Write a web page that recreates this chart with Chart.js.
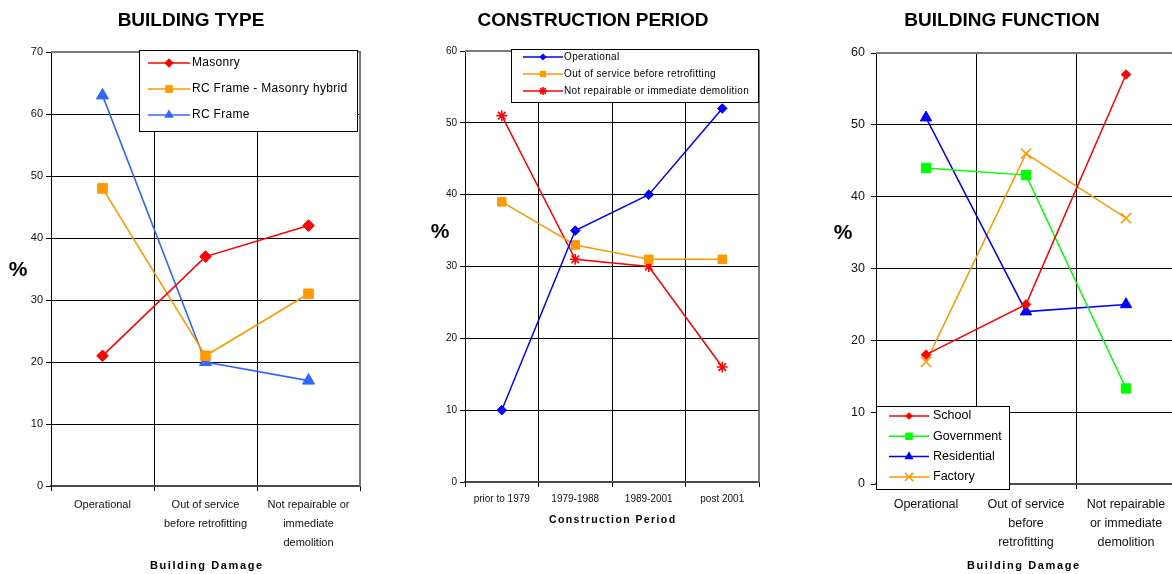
<!DOCTYPE html>
<html>
<head>
<meta charset="utf-8">
<script src="https://cdn.jsdelivr.net/npm/chart.js@4.4.1/dist/chart.umd.min.js"></script>
<style>
  html, body { margin: 0; padding: 0; background: #fff; width: 1172px; height: 574px; overflow: hidden; }
  #wrap { position: relative; width: 1172px; height: 574px; overflow: hidden; }
  canvas { position: absolute; top: 0; }
</style>
</head>
<body>
<div id="wrap">
  <canvas id="typeChart" width="370" height="574" style="left:0px"></canvas>
  <canvas id="periodChart" width="365" height="574" style="left:410px"></canvas>
  <canvas id="functionChart" width="400" height="574" style="left:800px"></canvas>
</div>
<script>
const FONT = "'Liberation Sans', Arial, sans-serif";

// Building type vs. damage state (%)
const typeDamageLabels = ['Operational', ['Out of service', 'before retrofitting'], ['Not repairable or', 'immediate', 'demolition']];
const masonry = [21, 37, 42];
const rcMasonryHybrid = [48, 21, 31];
const rcFrame = [63, 20, 17];

// Damage state vs. construction period (%)
const periodLabels = ['prior to 1979', '1979-1988', '1989-2001', 'post 2001'];
const periodOperational = [10, 35, 40, 52];
const periodOutOfService = [39, 33, 31, 31];
const periodNotRepairable = [51, 31, 30, 16];

// Building function vs. damage state (%)
const functionDamageLabels = ['Operational', ['Out of service', 'before', 'retrofitting'], ['Not repairable', 'or immediate', 'demolition']];
const school = [18, 25, 57];
const government = [44, 43, 13.3];
const residential = [51, 24, 25];
const factory = [17, 46, 37];

const RED = '#FF0000', ORANGE = '#FF9900', LIGHT_BLUE = '#3366FF', BLUE = '#0000FF', GREEN = '#00FF00';

// Marker shapes used in the boxed legends
function drawMarker(ctx, style, r, x, y, color, lw) {
  ctx.save();
  ctx.fillStyle = color;
  ctx.strokeStyle = color;
  ctx.lineWidth = lw;
  ctx.beginPath();
  const d = r * Math.SQRT1_2;
  switch (style) {
    case 'rectRot':
      ctx.moveTo(x, y - r); ctx.lineTo(x + r, y); ctx.lineTo(x, y + r); ctx.lineTo(x - r, y);
      ctx.closePath(); ctx.fill(); break;
    case 'rect':
      ctx.rect(x - d, y - d, 2 * d, 2 * d); ctx.fill(); break;
    case 'triangle':
      ctx.moveTo(x, y - r); ctx.lineTo(x + r * 0.866, y + r * 0.5); ctx.lineTo(x - r * 0.866, y + r * 0.5);
      ctx.closePath(); ctx.fill(); break;
    case 'star':
      ctx.moveTo(x, y - r); ctx.lineTo(x, y + r);
      ctx.moveTo(x - r, y); ctx.lineTo(x + r, y);
      ctx.moveTo(x - d, y - d); ctx.lineTo(x + d, y + d);
      ctx.moveTo(x - d, y + d); ctx.lineTo(x + d, y - d);
      ctx.stroke(); break;
    case 'crossRot':
      ctx.moveTo(x - d, y - d); ctx.lineTo(x + d, y + d);
      ctx.moveTo(x - d, y + d); ctx.lineTo(x + d, y - d);
      ctx.stroke(); break;
  }
  ctx.restore();
}

// Bordered legend drawn inside the plot
const boxLegend = {
  id: 'boxLegend',
  afterDraw(chart, args, o) {
    const ctx = chart.ctx;
    ctx.save();
    ctx.fillStyle = '#fff';
    ctx.fillRect(o.x, o.y, o.w, o.h);
    ctx.strokeStyle = '#000';
    ctx.lineWidth = 1;
    ctx.strokeRect(o.x + 0.5, o.y + 0.5, o.w, o.h);
    ctx.font = o.font;
    ctx.textAlign = 'left';
    ctx.textBaseline = 'middle';
    if ('letterSpacing' in ctx) ctx.letterSpacing = (o.spacing || 0) + 'px';
    chart.data.datasets.forEach((ds, i) => {
      const cy = o.y + o.first + i * o.gap;
      ctx.strokeStyle = ds.borderColor;
      ctx.lineWidth = ds.borderWidth;
      ctx.beginPath();
      ctx.moveTo(o.x + o.lineFrom, cy);
      ctx.lineTo(o.x + o.lineTo, cy);
      ctx.stroke();
      drawMarker(ctx, ds.pointStyle, ds.pointRadius * o.markerScale,
        o.x + (o.lineFrom + o.lineTo) / 2, cy, ds.borderColor, ds.pointBorderWidth);
      ctx.fillStyle = '#000';
      ctx.fillText(ds.label, o.x + o.textX, cy);
    });
    ctx.restore();
  }
};

// Chart heading, upright "%" and spaced axis caption
const captions = {
  id: 'captions',
  afterDraw(chart, args, o) {
    const ctx = chart.ctx;
    (o.items || []).forEach(it => {
      ctx.save();
      ctx.font = it.font;
      ctx.fillStyle = '#000';
      ctx.textAlign = 'center';
      ctx.textBaseline = 'middle';
      const sp = it.spacing || 0;
      if ('letterSpacing' in ctx) ctx.letterSpacing = sp + 'px';
      ctx.fillText(it.text, it.x + sp / 2, it.y);
      ctx.restore();
    });
  }
};

// Grey plot-area frame on the top and right edges
const plotFrame = {
  id: 'plotFrame',
  beforeDatasetsDraw(chart, args, o) {
    const { ctx, chartArea: a } = chart;
    ctx.save();
    ctx.strokeStyle = o.color || '#7a7a7a';
    ctx.lineWidth = o.width || 2;
    ctx.beginPath();
    ctx.moveTo(a.left, a.top);
    ctx.lineTo(a.right, a.top);
    ctx.lineTo(a.right, a.bottom);
    ctx.stroke();
    ctx.restore();
  }
};

function makeScales(s) {
  return {
    x: {
      type: 'category',
      offset: true,
      grid: { offset: true, color: '#000', lineWidth: 1, tickLength: 5, tickColor: '#000' },
      border: { color: '#4a4a4a', width: 2 },
      ticks: {
        color: '#111', maxRotation: 0, autoSkip: false, padding: s.xPad,
        font: { family: FONT, size: s.xFont, lineHeight: s.xLine }
      },
      afterFit(scale) { scale.height = s.xHeight; }
    },
    y: {
      min: 0, max: s.yMax,
      grid: { color: '#000', lineWidth: 1, tickLength: 5, tickColor: '#000' },
      border: { color: '#000', width: 1 },
      ticks: { stepSize: 10, color: '#111', padding: s.yPad, font: { family: FONT, size: s.yFont } },
      afterFit(scale) { scale.width = s.yWidth; }
    }
  };
}

function series(label, data, color, style, radius, width) {
  return {
    label, data,
    borderColor: color, backgroundColor: color,
    pointBackgroundColor: color, pointBorderColor: color,
    pointStyle: style, pointRadius: radius, pointHoverRadius: radius,
    pointBorderWidth: (style === 'star' || style === 'crossRot') ? 1.6 : 1,
    borderWidth: width, tension: 0, fill: false, clip: false
  };
}

Chart.defaults.font.family = FONT;
Chart.defaults.animation = false;

new Chart(document.getElementById('typeChart'), {
  type: 'line',
  data: {
    labels: typeDamageLabels,
    datasets: [
      series('Masonry', masonry, RED, 'rectRot', 5.8, 1.6),
      series('RC Frame - Masonry hybrid', rcMasonryHybrid, ORANGE, 'rect', 6.8, 1.6),
      series('RC Frame', rcFrame, LIGHT_BLUE, 'triangle', 7, 1.6)
    ]
  },
  options: {
    responsive: false,
    layout: { padding: { left: 0, right: 10, top: 52, bottom: 0 } },
    scales: makeScales({ yMax: 70, yWidth: 51, yFont: 11, yPad: 3, xFont: 11, xLine: 1.72, xPad: 5, xHeight: 88 }),
    plugins: {
      legend: { display: false },
      tooltip: { enabled: false },
      boxLegend: { x: 139, y: 50, w: 218, h: 81, first: 13, gap: 26, lineFrom: 9, lineTo: 51, textX: 53, markerScale: 0.8, font: '12px ' + FONT, spacing: 0.3 },
      captions: { items: [
        { text: 'BUILDING TYPE', x: 191, y: 21, font: 'bold 19px ' + FONT },
        { text: '%', x: 18, y: 270, font: 'bold 21px ' + FONT },
        { text: 'Building Damage', x: 206, y: 566, font: 'bold 11px ' + FONT, spacing: 1.6 }
      ] }
    }
  },
  plugins: [plotFrame, boxLegend, captions]
});

new Chart(document.getElementById('periodChart'), {
  type: 'line',
  data: {
    labels: periodLabels,
    datasets: [
      series('Operational', periodOperational, BLUE, 'rectRot', 4.8, 1.5),
      series('Out of service before retrofitting', periodOutOfService, ORANGE, 'rect', 6, 1.5),
      series('Not repairable or immediate demolition', periodNotRepairable, RED, 'star', 5.4, 1.5)
    ]
  },
  options: {
    responsive: false,
    layout: { padding: { left: 0, right: 16, top: 51, bottom: 0 } },
    scales: makeScales({ yMax: 60, yWidth: 55, yFont: 10, yPad: 3, xFont: 10, xLine: 1.2, xPad: 6, xHeight: 92 }),
    plugins: {
      legend: { display: false },
      tooltip: { enabled: false },
      boxLegend: { x: 101, y: 49, w: 247, h: 53, first: 8, gap: 17, lineFrom: 12, lineTo: 52, textX: 53, markerScale: 0.75, font: '10px ' + FONT, spacing: 0.35 },
      captions: { items: [
        { text: 'CONSTRUCTION PERIOD', x: 183, y: 21, font: 'bold 19px ' + FONT },
        { text: '%', x: 30, y: 232, font: 'bold 21px ' + FONT },
        { text: 'Construction Period', x: 202, y: 520, font: 'bold 10.5px ' + FONT, spacing: 1.4 }
      ] }
    }
  },
  plugins: [plotFrame, boxLegend, captions]
});

new Chart(document.getElementById('functionChart'), {
  type: 'line',
  data: {
    labels: functionDamageLabels,
    datasets: [
      series('School', school, RED, 'rectRot', 4.8, 1.5),
      series('Government', government, GREEN, 'rect', 6.6, 1.5),
      series('Residential', residential, BLUE, 'triangle', 6.6, 1.5),
      series('Factory', factory, ORANGE, 'crossRot', 7.2, 1.5)
    ]
  },
  options: {
    responsive: false,
    layout: { padding: { left: 0, right: 24, top: 53, bottom: 0 } },
    scales: makeScales({ yMax: 60, yWidth: 76, yFont: 12.5, yPad: 6, xFont: 12.5, xLine: 1.52, xPad: 6, xHeight: 90 }),
    plugins: {
      legend: { display: false },
      tooltip: { enabled: false },
      boxLegend: { x: 76, y: 406, w: 133, h: 83, first: 10, gap: 20.3, lineFrom: 13, lineTo: 53, textX: 57, markerScale: 0.8, font: '12.5px ' + FONT, spacing: 0 },
      captions: { items: [
        { text: 'BUILDING FUNCTION', x: 202, y: 21, font: 'bold 19px ' + FONT },
        { text: '%', x: 43, y: 233, font: 'bold 21px ' + FONT },
        { text: 'Building Damage', x: 223, y: 566, font: 'bold 11px ' + FONT, spacing: 1.6 }
      ] }
    }
  },
  plugins: [plotFrame, boxLegend, captions]
});
</script>
</body>
</html>
